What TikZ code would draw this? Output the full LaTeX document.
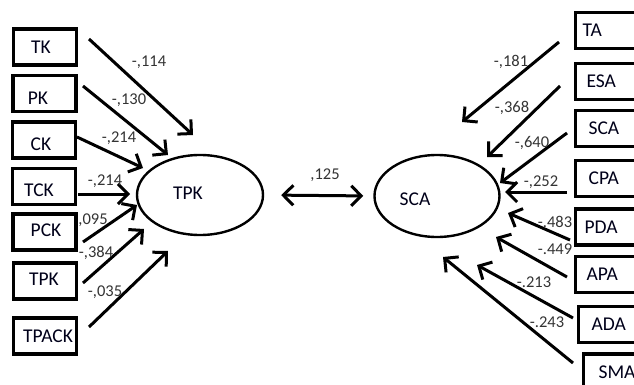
\documentclass[tikz,border=0pt]{standalone}
\usepackage{fontspec}
\setmainfont{Carlito}
\usetikzlibrary{arrows.meta,shapes.geometric,calc}

\tikzset{
  obsbox/.style={draw=black, line width=3.2pt, rectangle, minimum width=63pt,
    minimum height=36pt, inner sep=0pt},
  rbox/.style={draw=black, line width=3.2pt, rectangle, anchor=west,
    minimum height=36pt, text width=60pt, align=left, inner xsep=7pt,
    inner ysep=0pt, font=\fontsize{19.5}{19.5}\selectfont, text=black!90!blue},
  latent/.style={draw=black, line width=2.4pt, ellipse, inner sep=0pt},
  nametext/.style={font=\fontsize{19.5}{19.5}\selectfont, inner sep=0pt, text=black!90!blue},
  coef/.style={font=\fontsize{16.5}{16.5}\selectfont, text=black!80, inner sep=0pt},
  path/.style={line width=3pt, -{Straight Barb[length=10pt,width=20pt,line width=3pt]}},
  both/.style={line width=3pt, {Straight Barb[length=10pt,width=20pt,line width=3pt]}-{Straight Barb[length=10pt,width=20pt,line width=3pt]}}
}

\begin{document}
\begin{tikzpicture}[x=1pt, y=-1pt]
\useasboundingbox (0,0) rectangle (634,385);
\clip (0,0) rectangle (634,385);

% ---- left indicator boxes ----
\node[obsbox] (TK)    at (45,47)     {};
\node[obsbox] (PK)    at (44.5,93.5) {};
\node[obsbox] (CK)    at (44,140)    {};
\node[obsbox] (TCK)   at (44,186.5)  {};
\node[obsbox] (PCK)   at (44.5,232)  {};
\node[obsbox] (TPKo)  at (45,281)    {};
\node[obsbox] (TPACK) at (45,336)    {};
\node[nametext] (tTK)    at (41,47)  {TK};
\node[nametext] (tPK)    at (38,98)  {PK};
\node[nametext] (tCK)    at (41,144) {CK};
\node[nametext] (tTCK)   at (39,190) {TCK};
\node[nametext] (tPCK)   at (46,230) {PCK};
\node[nametext] (tTPK)   at (44,279) {TPK};
\node[nametext] (tTPACK) at (48,336) {TPACK};

% ---- right indicator boxes (run past the right edge) ----
\node[rbox] (TA)   at (574,30.5)  {TA};
\node[rbox] (ESA)  at (574,81.5)  {\hspace*{4pt}ESA};
\node[rbox] (SCAo) at (574,128.5) {\hspace*{6pt}SCA};
\node[rbox] (CPA)  at (574,178.5) {\hspace*{6pt}CPA};
\node[rbox] (PDA)  at (574,227)   {\hspace*{2pt}PDA};
\node[rbox] (APA)  at (574,274.5) {\hspace*{4pt}APA};
\node[rbox] (ADA)  at (577,324.5) {\hspace*{6pt}ADA};
\node[rbox] (SMA)  at (582,372)   {\hspace*{8pt}SMA};

% ---- latent variables ----
\node[latent, minimum width=126pt, minimum height=80pt] (TPK) at (200,195) {};
\node[latent, minimum width=125pt, minimum height=82pt] (SCA) at (437,196) {};
\node[nametext] (tTPKl) at (188,193) {TPK};
\node[nametext] (tSCAl) at (415,199) {SCA};

% ---- correlation ----
\draw[both, shorten <=17pt, shorten >=10pt] (TPK.east) -- (SCA.west);
\node[coef] (r) at (325,175) {,125};

% ---- paths into TPK ----
\coordinate (a1) at (89,39);   \coordinate (b1) at (193,135);
\coordinate (a2) at (83,86);   \coordinate (b2) at (168,155);
\coordinate (a3) at (77,137);  \coordinate (b3) at (143,168);
\coordinate (a4) at (78,194);  \coordinate (b4) at (130,194);
\coordinate (a5) at (83,242);  \coordinate (b5) at (137,205);
\coordinate (a6) at (83,283);  \coordinate (b6) at (144,229);
\coordinate (a7) at (89,327);  \coordinate (b7) at (168,251);
\draw[path] (a1) -- (b1);
\draw[path] (a2) -- (b2);
\draw[path] (a3) -- (b3);
\draw[path] (a4) -- (b4);
\draw[path] (a5) -- (b5);
\draw[path] (a6) -- (b6);
\draw[path] (a7) -- (b7);
\node[coef] (c1) at (149,62)  {-,114};
\node[coef] (c2) at (129,100) {-,130};
\node[coef] (c3) at (119,138) {-,214};
\node[coef] (c4) at (105,181) {-,214};
\node[coef] (c5) at (93,220)  {,095};
\node[coef] (c6) at (96,253)  {-,384};
\node[coef] (c7) at (105,292) {-,035};

% ---- paths into SCA ----
\coordinate (d1) at (559,42);  \coordinate (e1) at (462,122);
\coordinate (d2) at (560,86);  \coordinate (e2) at (487,157);
\coordinate (d3) at (567,133); \coordinate (e3) at (500,183);
\coordinate (d4) at (567,192); \coordinate (e4) at (505,192);
\coordinate (d5) at (570,240); \coordinate (e5) at (508,213);
\coordinate (d6) at (567,277); \coordinate (e6) at (496,237);
\coordinate (d7) at (573,318); \coordinate (e7) at (477,265);
\coordinate (d8) at (573,363); \coordinate (e8) at (443,257);
\draw[path] (d1) -- (e1);
\draw[path] (d2) -- (e2);
\draw[path] (d3) -- (e3);
\draw[path] (d4) -- (e4);
\draw[path] (d5) -- (e5);
\draw[path] (d6) -- (e6);
\draw[path] (d7) -- (e7);
\draw[path] (d8) -- (e8);
\node[coef] (f1) at (511,62)  {-,181};
\node[coef] (f2) at (512,108) {-,368};
\node[coef] (f3) at (532,143) {-,640};
\node[coef] (f4) at (541,182) {-,252};
\node[coef] (f5) at (555,222) {-.483};
\node[coef] (f6) at (555,249) {-.449};
\node[coef] (f7) at (534,282) {-.213};
\node[coef] (f8) at (547,322) {-.243};
\end{tikzpicture}
\end{document}
